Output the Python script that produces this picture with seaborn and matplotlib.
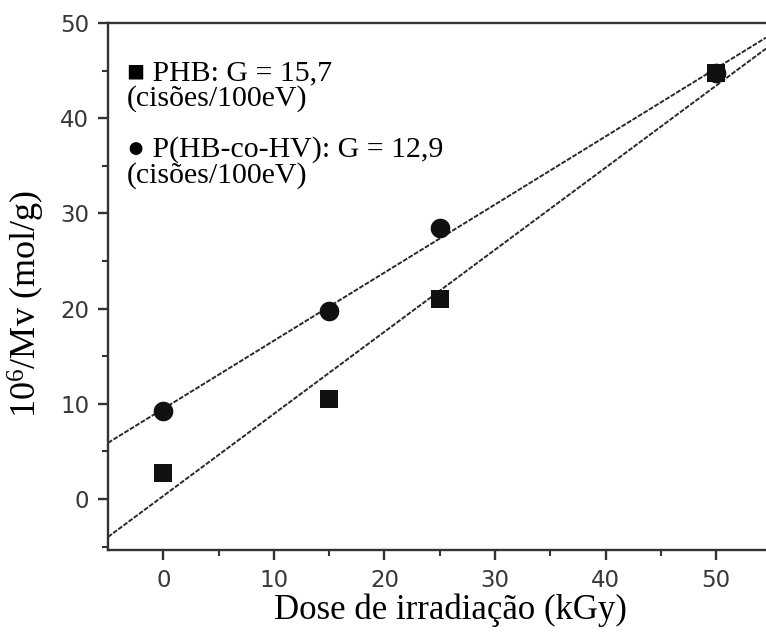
import numpy as np
import pandas as pd
import matplotlib
matplotlib.use("Agg")
import matplotlib.pyplot as plt
import seaborn as sns

# Irradiation dose (kGy) and 10^6/Mv (mol/g) for each polymer
dose = [0, 15, 25, 50]
phb = [2.7, 10.5, 21.0, 44.7]
phbv = [9.2, 19.8, 28.5, 44.8]

x_ticks = [0, 10, 20, 30, 40, 50]
y_ticks = [0, 10, 20, 30, 40, 50]

legend_lines = [
    "\u25a0 PHB: G = 15,7",
    "(cisões/100eV)",
    "\u25cf P(HB-co-HV): G = 12,9",
    "(cisões/100eV)",
]
x_label = "Dose de irradiação (kGy)"
y_label = r"10$^{6}$/Mv (mol/g)"

sns.set_theme(style="white")
plt.rcParams["font.family"] = ["DejaVu Sans"]
plt.rcParams["mathtext.fontset"] = "custom"
plt.rcParams["mathtext.rm"] = "Liberation Serif"
plt.rcParams["mathtext.it"] = "Liberation Serif:italic"
plt.rcParams["mathtext.bf"] = "Liberation Serif:bold"

df = pd.DataFrame({"dose": dose, "phb": phb, "phbv": phbv})

fig = plt.figure(figsize=(7.66, 6.37), dpi=100)
ax = fig.add_axes([108 / 766, 1 - 550 / 637, 1 - 108 / 766, (550 - 23) / 637])
ax.set_xlim(-5, 54.5)
ax.set_ylim(-5.35, 50)

line_kw = dict(color="#2a2a2a", linewidth=1.4, linestyle=(0, (2.5, 0.8)))
sns.regplot(data=df, x="dose", y="phbv", ax=ax, scatter=False, ci=None,
            truncate=False, line_kws=line_kw)
sns.regplot(data=df, x="dose", y="phb", ax=ax, scatter=False, ci=None,
            truncate=False, line_kws=line_kw)

sns.scatterplot(data=df, x="dose", y="phbv", ax=ax, marker="o", s=200,
                color="#111111", edgecolor="#111111", linewidth=0, zorder=5)
sns.scatterplot(data=df, x="dose", y="phb", ax=ax, marker="s", s=175,
                color="#111111", edgecolor="#111111", linewidth=0, zorder=6)

ax.set_xlim(-5, 54.5)
ax.set_ylim(-5.35, 50)
ax.set_xticks(x_ticks)
ax.set_yticks(y_ticks)
ax.set_xticks([5, 15, 25, 35, 45], minor=True)
ax.set_yticks([-5, 5, 15, 25, 35, 45], minor=True)

for side in ("left", "bottom", "top"):
    ax.spines[side].set_color("#333333")
    ax.spines[side].set_linewidth(1.7)
ax.spines["right"].set_visible(False)

ax.tick_params(axis="both", which="major", direction="out", length=7.5, width=1.7,
               color="#333333", labelsize=16.5, labelcolor="#383838", pad=6,
               bottom=True, left=True, top=False, right=False)
ax.tick_params(axis="both", which="minor", direction="out", length=4, width=1.5,
               color="#333333", bottom=True, left=True, top=False, right=False)

ax.set_xlabel(x_label, family="Liberation Serif", fontsize=25, color="black")
ax.set_ylabel(y_label, family="Liberation Serif", fontsize=26, color="black")
ax.xaxis.set_label_coords(0.52, -0.083)
ax.yaxis.set_label_coords(-0.093, 0.467)

# Annotation block with the radiation-chemical yields
baselines = [80, 106, 157, 183]
for text, yp in zip(legend_lines, baselines):
    fig.text(127 / 766, 1 - yp / 637, text, family="Liberation Serif",
             fontsize=21.5, color="black", va="baseline", ha="left")

fig.savefig("out.png", dpi=100, facecolor="white")
